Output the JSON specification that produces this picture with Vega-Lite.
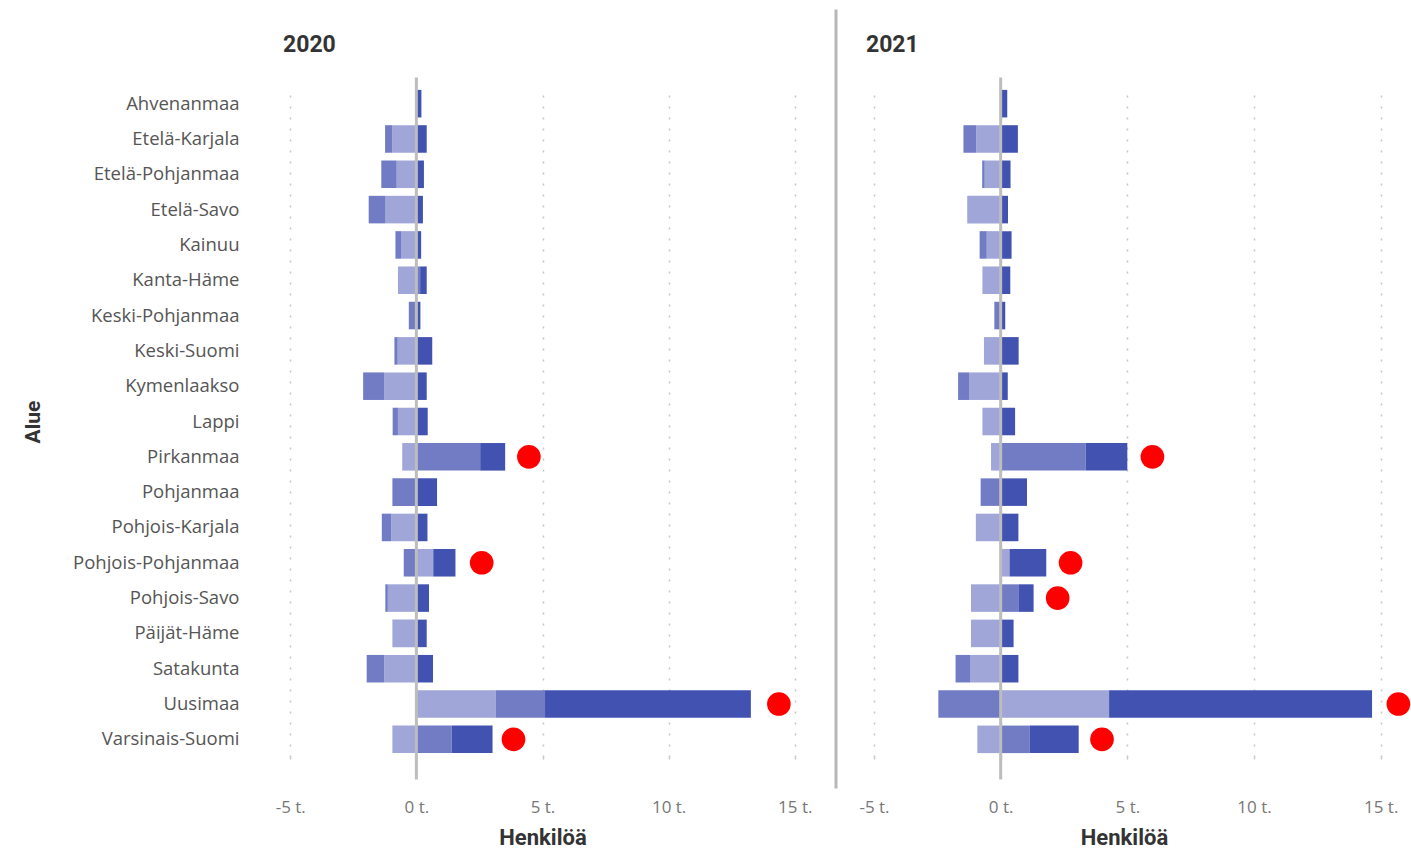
{
  "$schema": "https://vega.github.io/schema/vega-lite/v6.json",
  "autosize": {"type": "pad"},
  "padding": {"left": 22, "top": 8, "right": 0, "bottom": 0},
  "background": "white",
  "bounds": "flush",
  "config": {"view": {"stroke": null}, "font": "Open Sans"},
  "datasets": {
    "palkit": [
      {"vuosi": 2020, "alue": "Ahvenanmaa", "osa": "Nettomaahanmuutto", "nro": 3, "arvo": 200},
      {"vuosi": 2020, "alue": "Etelä-Karjala", "osa": "Luonnollinen väestönlisäys", "nro": 1, "arvo": -950},
      {"vuosi": 2020, "alue": "Etelä-Karjala", "osa": "Kuntien välinen nettomuutto", "nro": 2, "arvo": -290},
      {"vuosi": 2020, "alue": "Etelä-Karjala", "osa": "Nettomaahanmuutto", "nro": 3, "arvo": 410},
      {"vuosi": 2020, "alue": "Etelä-Pohjanmaa", "osa": "Luonnollinen väestönlisäys", "nro": 1, "arvo": -780},
      {"vuosi": 2020, "alue": "Etelä-Pohjanmaa", "osa": "Kuntien välinen nettomuutto", "nro": 2, "arvo": -610},
      {"vuosi": 2020, "alue": "Etelä-Pohjanmaa", "osa": "Nettomaahanmuutto", "nro": 3, "arvo": 300},
      {"vuosi": 2020, "alue": "Etelä-Savo", "osa": "Luonnollinen väestönlisäys", "nro": 1, "arvo": -1220},
      {"vuosi": 2020, "alue": "Etelä-Savo", "osa": "Kuntien välinen nettomuutto", "nro": 2, "arvo": -670},
      {"vuosi": 2020, "alue": "Etelä-Savo", "osa": "Nettomaahanmuutto", "nro": 3, "arvo": 260},
      {"vuosi": 2020, "alue": "Kainuu", "osa": "Luonnollinen väestönlisäys", "nro": 1, "arvo": -610},
      {"vuosi": 2020, "alue": "Kainuu", "osa": "Kuntien välinen nettomuutto", "nro": 2, "arvo": -220},
      {"vuosi": 2020, "alue": "Kainuu", "osa": "Nettomaahanmuutto", "nro": 3, "arvo": 190},
      {"vuosi": 2020, "alue": "Kanta-Häme", "osa": "Luonnollinen väestönlisäys", "nro": 1, "arvo": -730},
      {"vuosi": 2020, "alue": "Kanta-Häme", "osa": "Kuntien välinen nettomuutto", "nro": 2, "arvo": 150},
      {"vuosi": 2020, "alue": "Kanta-Häme", "osa": "Nettomaahanmuutto", "nro": 3, "arvo": 260},
      {"vuosi": 2020, "alue": "Keski-Pohjanmaa", "osa": "Kuntien välinen nettomuutto", "nro": 2, "arvo": -300},
      {"vuosi": 2020, "alue": "Keski-Pohjanmaa", "osa": "Nettomaahanmuutto", "nro": 3, "arvo": 160},
      {"vuosi": 2020, "alue": "Keski-Suomi", "osa": "Luonnollinen väestönlisäys", "nro": 1, "arvo": -740},
      {"vuosi": 2020, "alue": "Keski-Suomi", "osa": "Kuntien välinen nettomuutto", "nro": 2, "arvo": -130},
      {"vuosi": 2020, "alue": "Keski-Suomi", "osa": "Nettomaahanmuutto", "nro": 3, "arvo": 630},
      {"vuosi": 2020, "alue": "Kymenlaakso", "osa": "Luonnollinen väestönlisäys", "nro": 1, "arvo": -1280},
      {"vuosi": 2020, "alue": "Kymenlaakso", "osa": "Kuntien välinen nettomuutto", "nro": 2, "arvo": -830},
      {"vuosi": 2020, "alue": "Kymenlaakso", "osa": "Nettomaahanmuutto", "nro": 3, "arvo": 410},
      {"vuosi": 2020, "alue": "Lappi", "osa": "Luonnollinen väestönlisäys", "nro": 1, "arvo": -730},
      {"vuosi": 2020, "alue": "Lappi", "osa": "Kuntien välinen nettomuutto", "nro": 2, "arvo": -210},
      {"vuosi": 2020, "alue": "Lappi", "osa": "Nettomaahanmuutto", "nro": 3, "arvo": 450},
      {"vuosi": 2020, "alue": "Pirkanmaa", "osa": "Luonnollinen väestönlisäys", "nro": 1, "arvo": -560},
      {"vuosi": 2020, "alue": "Pirkanmaa", "osa": "Kuntien välinen nettomuutto", "nro": 2, "arvo": 2530},
      {"vuosi": 2020, "alue": "Pirkanmaa", "osa": "Nettomaahanmuutto", "nro": 3, "arvo": 990},
      {"vuosi": 2020, "alue": "Pohjanmaa", "osa": "Kuntien välinen nettomuutto", "nro": 2, "arvo": -950},
      {"vuosi": 2020, "alue": "Pohjanmaa", "osa": "Nettomaahanmuutto", "nro": 3, "arvo": 820},
      {"vuosi": 2020, "alue": "Pohjois-Karjala", "osa": "Luonnollinen väestönlisäys", "nro": 1, "arvo": -990},
      {"vuosi": 2020, "alue": "Pohjois-Karjala", "osa": "Kuntien välinen nettomuutto", "nro": 2, "arvo": -380},
      {"vuosi": 2020, "alue": "Pohjois-Karjala", "osa": "Nettomaahanmuutto", "nro": 3, "arvo": 440},
      {"vuosi": 2020, "alue": "Pohjois-Pohjanmaa", "osa": "Luonnollinen väestönlisäys", "nro": 1, "arvo": 670},
      {"vuosi": 2020, "alue": "Pohjois-Pohjanmaa", "osa": "Kuntien välinen nettomuutto", "nro": 2, "arvo": -500},
      {"vuosi": 2020, "alue": "Pohjois-Pohjanmaa", "osa": "Nettomaahanmuutto", "nro": 3, "arvo": 880},
      {"vuosi": 2020, "alue": "Pohjois-Savo", "osa": "Luonnollinen väestönlisäys", "nro": 1, "arvo": -1130},
      {"vuosi": 2020, "alue": "Pohjois-Savo", "osa": "Kuntien välinen nettomuutto", "nro": 2, "arvo": -100},
      {"vuosi": 2020, "alue": "Pohjois-Savo", "osa": "Nettomaahanmuutto", "nro": 3, "arvo": 500},
      {"vuosi": 2020, "alue": "Päijät-Häme", "osa": "Luonnollinen väestönlisäys", "nro": 1, "arvo": -950},
      {"vuosi": 2020, "alue": "Päijät-Häme", "osa": "Nettomaahanmuutto", "nro": 3, "arvo": 410},
      {"vuosi": 2020, "alue": "Satakunta", "osa": "Luonnollinen väestönlisäys", "nro": 1, "arvo": -1270},
      {"vuosi": 2020, "alue": "Satakunta", "osa": "Kuntien välinen nettomuutto", "nro": 2, "arvo": -700},
      {"vuosi": 2020, "alue": "Satakunta", "osa": "Nettomaahanmuutto", "nro": 3, "arvo": 660},
      {"vuosi": 2020, "alue": "Uusimaa", "osa": "Luonnollinen väestönlisäys", "nro": 1, "arvo": 3140},
      {"vuosi": 2020, "alue": "Uusimaa", "osa": "Kuntien välinen nettomuutto", "nro": 2, "arvo": 1960},
      {"vuosi": 2020, "alue": "Uusimaa", "osa": "Nettomaahanmuutto", "nro": 3, "arvo": 8160},
      {"vuosi": 2020, "alue": "Varsinais-Suomi", "osa": "Luonnollinen väestönlisäys", "nro": 1, "arvo": -950},
      {"vuosi": 2020, "alue": "Varsinais-Suomi", "osa": "Kuntien välinen nettomuutto", "nro": 2, "arvo": 1400},
      {"vuosi": 2020, "alue": "Varsinais-Suomi", "osa": "Nettomaahanmuutto", "nro": 3, "arvo": 1620},
      {"vuosi": 2021, "alue": "Ahvenanmaa", "osa": "Nettomaahanmuutto", "nro": 3, "arvo": 260},
      {"vuosi": 2021, "alue": "Etelä-Karjala", "osa": "Luonnollinen väestönlisäys", "nro": 1, "arvo": -960},
      {"vuosi": 2021, "alue": "Etelä-Karjala", "osa": "Kuntien välinen nettomuutto", "nro": 2, "arvo": -510},
      {"vuosi": 2021, "alue": "Etelä-Karjala", "osa": "Nettomaahanmuutto", "nro": 3, "arvo": 680},
      {"vuosi": 2021, "alue": "Etelä-Pohjanmaa", "osa": "Luonnollinen väestönlisäys", "nro": 1, "arvo": -630},
      {"vuosi": 2021, "alue": "Etelä-Pohjanmaa", "osa": "Kuntien välinen nettomuutto", "nro": 2, "arvo": -100},
      {"vuosi": 2021, "alue": "Etelä-Pohjanmaa", "osa": "Nettomaahanmuutto", "nro": 3, "arvo": 390},
      {"vuosi": 2021, "alue": "Etelä-Savo", "osa": "Luonnollinen väestönlisäys", "nro": 1, "arvo": -1320},
      {"vuosi": 2021, "alue": "Etelä-Savo", "osa": "Nettomaahanmuutto", "nro": 3, "arvo": 290},
      {"vuosi": 2021, "alue": "Kainuu", "osa": "Luonnollinen väestönlisäys", "nro": 1, "arvo": -550},
      {"vuosi": 2021, "alue": "Kainuu", "osa": "Kuntien välinen nettomuutto", "nro": 2, "arvo": -280},
      {"vuosi": 2021, "alue": "Kainuu", "osa": "Nettomaahanmuutto", "nro": 3, "arvo": 430},
      {"vuosi": 2021, "alue": "Kanta-Häme", "osa": "Luonnollinen väestönlisäys", "nro": 1, "arvo": -720},
      {"vuosi": 2021, "alue": "Kanta-Häme", "osa": "Nettomaahanmuutto", "nro": 3, "arvo": 380},
      {"vuosi": 2021, "alue": "Keski-Pohjanmaa", "osa": "Kuntien välinen nettomuutto", "nro": 2, "arvo": -250},
      {"vuosi": 2021, "alue": "Keski-Pohjanmaa", "osa": "Nettomaahanmuutto", "nro": 3, "arvo": 180},
      {"vuosi": 2021, "alue": "Keski-Suomi", "osa": "Luonnollinen väestönlisäys", "nro": 1, "arvo": -660},
      {"vuosi": 2021, "alue": "Keski-Suomi", "osa": "Nettomaahanmuutto", "nro": 3, "arvo": 710},
      {"vuosi": 2021, "alue": "Kymenlaakso", "osa": "Luonnollinen väestönlisäys", "nro": 1, "arvo": -1250},
      {"vuosi": 2021, "alue": "Kymenlaakso", "osa": "Kuntien välinen nettomuutto", "nro": 2, "arvo": -430},
      {"vuosi": 2021, "alue": "Kymenlaakso", "osa": "Nettomaahanmuutto", "nro": 3, "arvo": 280},
      {"vuosi": 2021, "alue": "Lappi", "osa": "Luonnollinen väestönlisäys", "nro": 1, "arvo": -720},
      {"vuosi": 2021, "alue": "Lappi", "osa": "Nettomaahanmuutto", "nro": 3, "arvo": 570},
      {"vuosi": 2021, "alue": "Pirkanmaa", "osa": "Luonnollinen väestönlisäys", "nro": 1, "arvo": -380},
      {"vuosi": 2021, "alue": "Pirkanmaa", "osa": "Kuntien välinen nettomuutto", "nro": 2, "arvo": 3360},
      {"vuosi": 2021, "alue": "Pirkanmaa", "osa": "Nettomaahanmuutto", "nro": 3, "arvo": 1640},
      {"vuosi": 2021, "alue": "Pohjanmaa", "osa": "Kuntien välinen nettomuutto", "nro": 2, "arvo": -790},
      {"vuosi": 2021, "alue": "Pohjanmaa", "osa": "Nettomaahanmuutto", "nro": 3, "arvo": 1040},
      {"vuosi": 2021, "alue": "Pohjois-Karjala", "osa": "Luonnollinen väestönlisäys", "nro": 1, "arvo": -980},
      {"vuosi": 2021, "alue": "Pohjois-Karjala", "osa": "Nettomaahanmuutto", "nro": 3, "arvo": 700},
      {"vuosi": 2021, "alue": "Pohjois-Pohjanmaa", "osa": "Luonnollinen väestönlisäys", "nro": 1, "arvo": 350},
      {"vuosi": 2021, "alue": "Pohjois-Pohjanmaa", "osa": "Nettomaahanmuutto", "nro": 3, "arvo": 1450},
      {"vuosi": 2021, "alue": "Pohjois-Savo", "osa": "Luonnollinen väestönlisäys", "nro": 1, "arvo": -1170},
      {"vuosi": 2021, "alue": "Pohjois-Savo", "osa": "Kuntien välinen nettomuutto", "nro": 2, "arvo": 700},
      {"vuosi": 2021, "alue": "Pohjois-Savo", "osa": "Nettomaahanmuutto", "nro": 3, "arvo": 600},
      {"vuosi": 2021, "alue": "Päijät-Häme", "osa": "Luonnollinen väestönlisäys", "nro": 1, "arvo": -1170},
      {"vuosi": 2021, "alue": "Päijät-Häme", "osa": "Nettomaahanmuutto", "nro": 3, "arvo": 510},
      {"vuosi": 2021, "alue": "Satakunta", "osa": "Luonnollinen väestönlisäys", "nro": 1, "arvo": -1210},
      {"vuosi": 2021, "alue": "Satakunta", "osa": "Kuntien välinen nettomuutto", "nro": 2, "arvo": -570},
      {"vuosi": 2021, "alue": "Satakunta", "osa": "Nettomaahanmuutto", "nro": 3, "arvo": 700},
      {"vuosi": 2021, "alue": "Uusimaa", "osa": "Luonnollinen väestönlisäys", "nro": 1, "arvo": 4280},
      {"vuosi": 2021, "alue": "Uusimaa", "osa": "Kuntien välinen nettomuutto", "nro": 2, "arvo": -2460},
      {"vuosi": 2021, "alue": "Uusimaa", "osa": "Nettomaahanmuutto", "nro": 3, "arvo": 10380},
      {"vuosi": 2021, "alue": "Varsinais-Suomi", "osa": "Luonnollinen väestönlisäys", "nro": 1, "arvo": -920},
      {"vuosi": 2021, "alue": "Varsinais-Suomi", "osa": "Kuntien välinen nettomuutto", "nro": 2, "arvo": 1150},
      {"vuosi": 2021, "alue": "Varsinais-Suomi", "osa": "Nettomaahanmuutto", "nro": 3, "arvo": 1930}
    ],
    "pisteet": [
      {"vuosi": 2020, "alue": "Pirkanmaa", "arvo": 4460},
      {"vuosi": 2020, "alue": "Pohjois-Pohjanmaa", "arvo": 2590},
      {"vuosi": 2020, "alue": "Uusimaa", "arvo": 14370},
      {"vuosi": 2020, "alue": "Varsinais-Suomi", "arvo": 3850},
      {"vuosi": 2021, "alue": "Pirkanmaa", "arvo": 5990},
      {"vuosi": 2021, "alue": "Pohjois-Pohjanmaa", "arvo": 2760},
      {"vuosi": 2021, "alue": "Pohjois-Savo", "arvo": 2250},
      {"vuosi": 2021, "alue": "Uusimaa", "arvo": 15700},
      {"vuosi": 2021, "alue": "Varsinais-Suomi", "arvo": 4000}
    ]
  },
  "spacing": 16,
  "hconcat": [
    {
      "width": 555,
      "height": 671,
      "resolve": {"scale": {"y": "independent"}},
      "layer": [
        {
          "layer": [
            {
              "data": {"name": "palkit"},
              "transform": [{"filter": "datum.vuosi == 2020"}],
              "mark": {"type": "bar"},
              "encoding": {
                "y": {"field": "alue", "type": "nominal", "sort": ["Ahvenanmaa", "Etelä-Karjala", "Etelä-Pohjanmaa", "Etelä-Savo", "Kainuu", "Kanta-Häme", "Keski-Pohjanmaa", "Keski-Suomi", "Kymenlaakso", "Lappi", "Pirkanmaa", "Pohjanmaa", "Pohjois-Karjala", "Pohjois-Pohjanmaa", "Pohjois-Savo", "Päijät-Häme", "Satakunta", "Uusimaa", "Varsinais-Suomi"],
                  "scale": {"paddingInner": 0.22, "paddingOuter": 0.11},
                  "axis": {"title": "Alue", "titleFont": "Roboto", "titleFontSize": 21, "titleFontWeight": "bold", "titleColor": "#333333", "titleX": -222, "labelFont": "Open Sans", "labelFontSize": 18.5, "labelColor": "#555555", "labelPadding": 26, "ticks": false, "domain": false, "grid": false}},
                "x": {"field": "arvo", "type": "quantitative", "stack": "zero",
                  "scale": {"domain": [-6000, 16000], "nice": false, "zero": false},
                  "axis": {"values": [-5000, 0, 5000, 10000, 15000], "labelExpr": "(datum.value / 1000) + ' t.'", "title": "Henkilöä",
                    "grid": true, "gridDash": [2, 9], "gridColor": "#c4c4c4", "gridWidth": 1.5,
                    "domain": false, "ticks": true, "tickSize": 10, "tickDash": [2, 9], "tickColor": "#c4c4c4", "tickWidth": 1.5,
                    "labelPadding": 32, "labelFont": "Open Sans", "labelFontSize": 17, "labelColor": "#777777",
                    "titleFont": "Roboto", "titleFontSize": 22, "titleFontWeight": "bold", "titleColor": "#333333", "titlePadding": 12}},
                "color": {"field": "osa", "type": "nominal", "scale": {"domain": ["Luonnollinen väestönlisäys", "Kuntien välinen nettomuutto", "Nettomaahanmuutto"], "range": ["#a0a6d8", "#727cc4", "#4252b0"]}, "legend": null},
                "order": {"field": "nro", "type": "quantitative"}
              }
            },
            {
              "data": {"name": "pisteet"},
              "transform": [{"filter": "datum.vuosi == 2020"}],
              "mark": {"type": "circle", "color": "#ff0000", "opacity": 1, "size": 560},
              "encoding": {
                "y": {"field": "alue", "type": "nominal", "sort": ["Ahvenanmaa", "Etelä-Karjala", "Etelä-Pohjanmaa", "Etelä-Savo", "Kainuu", "Kanta-Häme", "Keski-Pohjanmaa", "Keski-Suomi", "Kymenlaakso", "Lappi", "Pirkanmaa", "Pohjanmaa", "Pohjois-Karjala", "Pohjois-Pohjanmaa", "Pohjois-Savo", "Päijät-Häme", "Satakunta", "Uusimaa", "Varsinais-Suomi"]},
                "x": {"field": "arvo", "type": "quantitative"}
              }
            }
          ]
        },
        {
          "data": {"values": [{}]},
          "mark": {"type": "rule", "color": "#bdbdbd", "strokeWidth": 3},
          "encoding": {
            "x": {"datum": 0},
            "y": {"datum": 1.0127, "type": "quantitative", "scale": {"domain": [0, 1], "nice": false, "zero": false}, "axis": null},
            "y2": {"datum": -0.0335}
          }
        },
        {
          "data": {"values": [{"otsikko": "2020"}]},
          "mark": {"type": "text", "align": "left", "baseline": "middle", "font": "Roboto", "fontSize": 23, "fontWeight": "bold", "color": "#333333"},
          "encoding": {
            "text": {"field": "otsikko"},
            "x": {"datum": -5287},
            "y": {"datum": 1.0618, "type": "quantitative", "scale": {"domain": [0, 1], "nice": false, "zero": false}, "axis": null}
          }
        }
      ]
    },
    {
      "width": 570,
      "height": 671,
      "resolve": {"scale": {"y": "independent"}},
      "layer": [
        {
          "layer": [
            {
              "data": {"name": "palkit"},
              "transform": [{"filter": "datum.vuosi == 2021"}],
              "mark": {"type": "bar"},
              "encoding": {
                "y": {"field": "alue", "type": "nominal", "sort": ["Ahvenanmaa", "Etelä-Karjala", "Etelä-Pohjanmaa", "Etelä-Savo", "Kainuu", "Kanta-Häme", "Keski-Pohjanmaa", "Keski-Suomi", "Kymenlaakso", "Lappi", "Pirkanmaa", "Pohjanmaa", "Pohjois-Karjala", "Pohjois-Pohjanmaa", "Pohjois-Savo", "Päijät-Häme", "Satakunta", "Uusimaa", "Varsinais-Suomi"],
                  "scale": {"paddingInner": 0.22, "paddingOuter": 0.11},
                  "axis": null},
                "x": {"field": "arvo", "type": "quantitative", "stack": "zero",
                  "scale": {"domain": [-6500, 16000], "nice": false, "zero": false},
                  "axis": {"values": [-5000, 0, 5000, 10000, 15000], "labelExpr": "(datum.value / 1000) + ' t.'", "title": "Henkilöä",
                    "grid": true, "gridDash": [2, 9], "gridColor": "#c4c4c4", "gridWidth": 1.5,
                    "domain": false, "ticks": true, "tickSize": 10, "tickDash": [2, 9], "tickColor": "#c4c4c4", "tickWidth": 1.5,
                    "labelPadding": 32, "labelFont": "Open Sans", "labelFontSize": 17, "labelColor": "#777777",
                    "titleFont": "Roboto", "titleFontSize": 22, "titleFontWeight": "bold", "titleColor": "#333333", "titlePadding": 12, "titleX": 288}},
                "color": {"field": "osa", "type": "nominal", "scale": {"domain": ["Luonnollinen väestönlisäys", "Kuntien välinen nettomuutto", "Nettomaahanmuutto"], "range": ["#a0a6d8", "#727cc4", "#4252b0"]}, "legend": null},
                "order": {"field": "nro", "type": "quantitative"}
              }
            },
            {
              "data": {"name": "pisteet"},
              "transform": [{"filter": "datum.vuosi == 2021"}],
              "mark": {"type": "circle", "color": "#ff0000", "opacity": 1, "size": 560},
              "encoding": {
                "y": {"field": "alue", "type": "nominal", "sort": ["Ahvenanmaa", "Etelä-Karjala", "Etelä-Pohjanmaa", "Etelä-Savo", "Kainuu", "Kanta-Häme", "Keski-Pohjanmaa", "Keski-Suomi", "Kymenlaakso", "Lappi", "Pirkanmaa", "Pohjanmaa", "Pohjois-Karjala", "Pohjois-Pohjanmaa", "Pohjois-Savo", "Päijät-Häme", "Satakunta", "Uusimaa", "Varsinais-Suomi"], "axis": null},
                "x": {"field": "arvo", "type": "quantitative"}
              }
            }
          ]
        },
        {
          "data": {"values": [{}]},
          "mark": {"type": "rule", "color": "#bdbdbd", "strokeWidth": 3},
          "encoding": {
            "x": {"datum": 0},
            "y": {"datum": 1.0127, "type": "quantitative", "scale": {"domain": [0, 1], "nice": false, "zero": false}, "axis": null},
            "y2": {"datum": -0.0335}
          }
        },
        {
          "data": {"values": [{}]},
          "mark": {"type": "rule", "color": "#b8b8b8", "strokeWidth": 3},
          "encoding": {
            "x": {"datum": -6500},
            "y": {"datum": 1.114, "type": "quantitative", "scale": {"domain": [0, 1], "nice": false, "zero": false}, "axis": null},
            "y2": {"datum": -0.047}
          }
        },
        {
          "data": {"values": [{"otsikko": "2021"}]},
          "mark": {"type": "text", "align": "left", "baseline": "middle", "font": "Roboto", "fontSize": 23, "fontWeight": "bold", "color": "#333333"},
          "encoding": {
            "text": {"field": "otsikko"},
            "x": {"datum": -5317},
            "y": {"datum": 1.0618, "type": "quantitative", "scale": {"domain": [0, 1], "nice": false, "zero": false}, "axis": null}
          }
        }
      ]
    }
  ]
}
